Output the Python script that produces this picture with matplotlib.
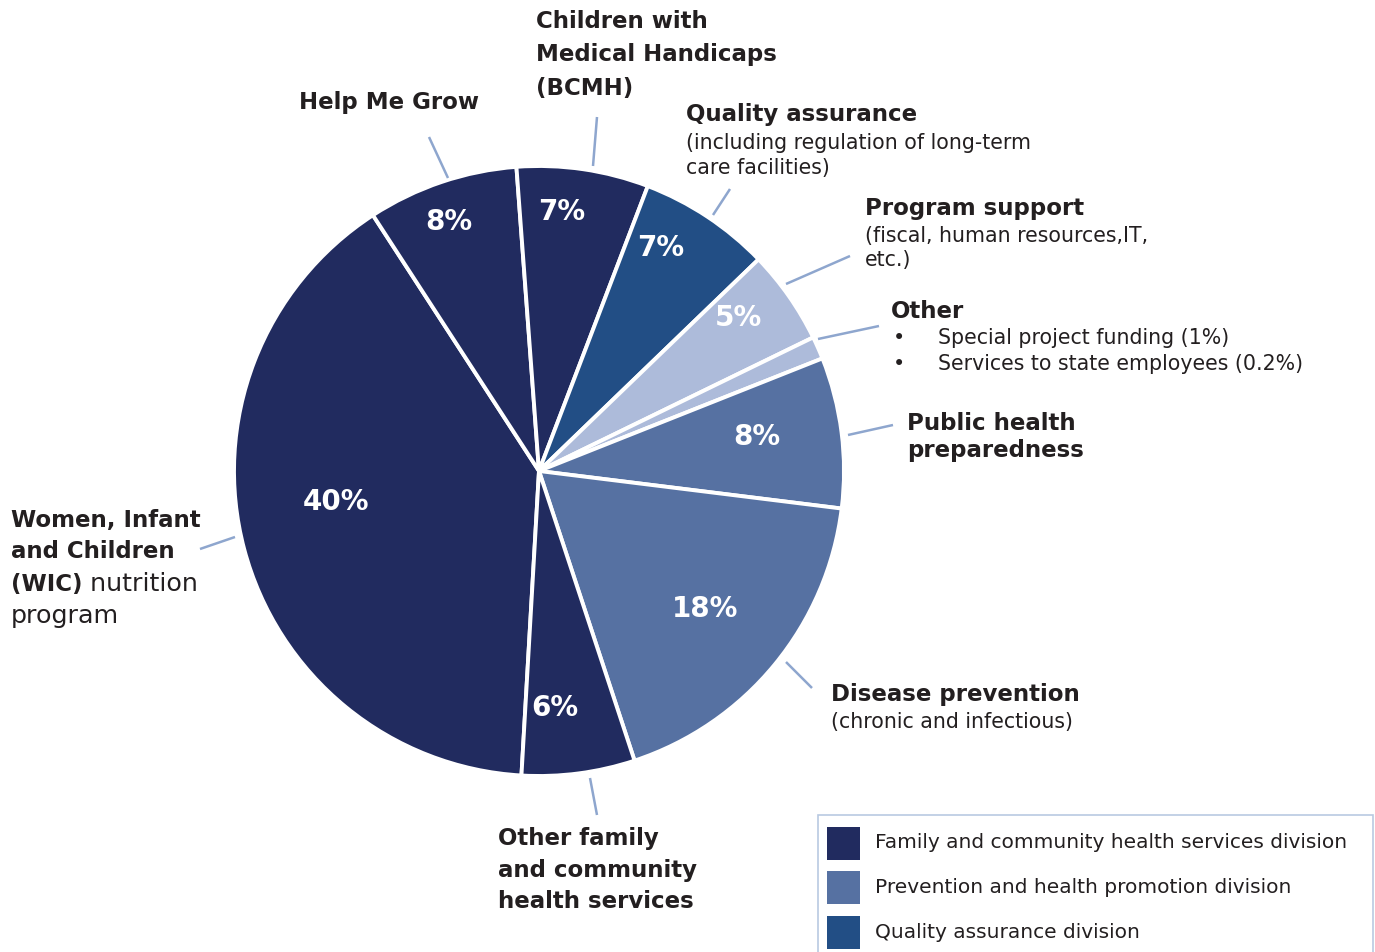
import matplotlib
matplotlib.use("Agg")
import matplotlib.pyplot as plt
from matplotlib.patches import Rectangle

# ---- data -------------------------------------------------------------
programs = [
    "Women, Infant and Children (WIC) nutrition program",
    "Help Me Grow",
    "Children with Medical Handicaps (BCMH)",
    "Quality assurance",
    "Program support",
    "Other",
    "Public health preparedness",
    "Disease prevention",
    "Other family and community health services",
]
shares = [40, 8, 7, 7, 5, 1.2, 8, 18, 6]
pct_labels = ["40%", "8%", "7%", "7%", "5%", "", "8%", "18%", "6%"]
divisions = ["family", "family", "family", "qa", "support", "support",
             "prevention", "prevention", "family"]
legend_labels = [
    "Family and community health services division",
    "Prevention and health promotion division",
    "Quality assurance division",
]

# ---- style ------------------------------------------------------------
W, H = 1375, 952
NAVY = "#212B5F"
QA = "#224E85"
PREV = "#5671A2"
LIGHT = "#ADBBDA"
LEADER = "#8EA6CE"
INK = "#231F20"
colors = {"family": NAVY, "qa": QA, "prevention": PREV, "support": LIGHT}
FONT = "DejaVu Sans"

fig = plt.figure(figsize=(W / 100, H / 100), dpi=100)
ax = fig.add_axes([0, 0, 1, 1])


def P(x, y):
    """Pixel position (origin top-left) to data coordinates."""
    return (x, H - y)


CENTER = P(539, 471)
RADIUS = 305

ax.pie(shares, colors=[colors[d] for d in divisions], startangle=-93.3,
       counterclock=False, center=CENTER, radius=RADIUS,
       wedgeprops=dict(edgecolor="white", linewidth=2.8))
ax.set_xlim(0, W)
ax.set_ylim(0, H)
ax.set_aspect("auto")
ax.axis("off")

# percentage labels inside the wedges
pct_pos = [(336, 502), (449, 222), (562, 212), (661, 248), (738, 318),
           None, (757, 437), (705, 609), (555, 708)]
for lab, pos in zip(pct_labels, pct_pos):
    if lab and pos:
        ax.text(*P(*pos), lab, color="white", fontsize=20, fontweight="bold",
                ha="center", va="center", family=FONT)

# leader lines
leaders = [
    ((200, 549), (235, 537)),
    ((429, 137), (448, 178)),
    ((597, 117), (593, 166)),
    ((730, 189), (713, 215)),
    ((850, 256), (786, 284)),
    ((879, 326), (818, 339)),
    ((893, 425), (848, 435)),
    ((786, 662), (812, 688)),
    ((590, 778), (597, 815)),
]
for a, b in leaders:
    ax.plot([P(*a)[0], P(*b)[0]], [P(*a)[1], P(*b)[1]], color=LEADER,
            lw=1.8, solid_capstyle="butt")

BOLD = dict(fontsize=16.5, fontweight="bold", color=INK, family=FONT,
            ha="left", va="center")
REG = dict(fontsize=14.8, color=INK, family=FONT, ha="left", va="center")
REG_BIG = dict(REG, fontsize=18.3)


def lines(x, y0, step, texts, style):
    for i, t in enumerate(texts):
        ax.text(*P(x, y0 + i * step), t, **style)


lines(299, 103, 32, ["Help Me Grow"], BOLD)
lines(536, 22, 33, ["Children with", "Medical Handicaps", "(BCMH)"], BOLD)
lines(686, 115, 0, ["Quality assurance"], BOLD)
lines(686, 143, 25, ["(including regulation of long-term", "care facilities)"], REG)
lines(865, 208, 0, ["Program support"], BOLD)
lines(865, 236, 24, ["(fiscal, human resources,IT,", "etc.)"], REG)
lines(891, 311, 0, ["Other"], BOLD)
for i, t in enumerate(["Special project funding (1%)",
                       "Services to state employees (0.2%)"]):
    ax.text(*P(893, 338 + 26 * i), "\u2022", **REG)
    ax.text(*P(938, 338 + 26 * i), t, **REG)
lines(907, 423, 27, ["Public health", "preparedness"], BOLD)
lines(831, 695, 0, ["Disease prevention"], BOLD)
lines(831, 722, 0, ["(chronic and infectious)"], REG)
lines(498, 838, 32, ["Other family", "and community", "health services"], BOLD)
lines(11, 520, 32, ["Women, Infant", "and Children"], BOLD)
wic = ax.text(*P(11, 584), "(WIC)", **BOLD)
lines(11, 616, 0, ["program"], REG_BIG)
fig.canvas.draw()
bb = wic.get_window_extent()
ax.text(bb.x1, P(0, 584)[1], " nutrition", **REG_BIG)

# legend
ax.add_patch(Rectangle(P(818, 962), 555, 147, facecolor="white",
                       edgecolor="#B9C9E2", lw=1.2))
for i, (lab, col) in enumerate(zip(legend_labels, [NAVY, PREV, QA])):
    yc = 843 + 44.5 * i
    ax.add_patch(Rectangle(P(827, yc + 16.5), 33, 33, facecolor=col,
                           edgecolor="none"))
    ax.text(*P(875, yc), lab, fontsize=14.5, color=INK, family=FONT,
            ha="left", va="center")

fig.savefig("out.png", dpi=100)
